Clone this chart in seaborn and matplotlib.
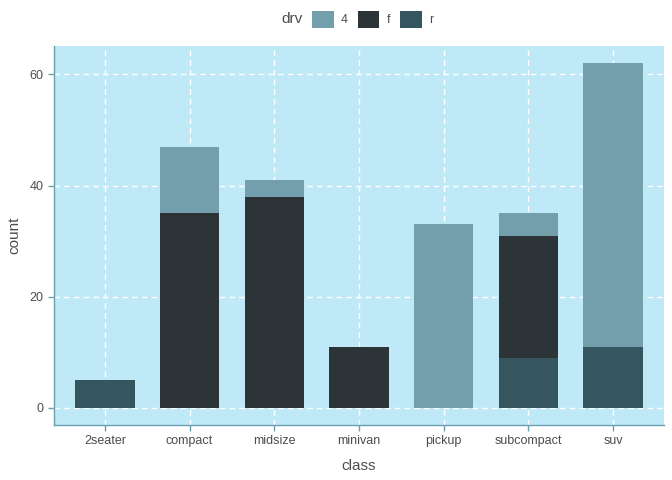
import matplotlib
matplotlib.use("Agg")
import matplotlib.pyplot as plt
import seaborn as sns
import numpy as np
from matplotlib.patches import Patch

# counts per class and drive type (mpg data)
classes = ["2seater", "compact", "midsize", "minivan", "pickup", "subcompact", "suv"]
n_4 = [0, 12, 3, 0, 33, 4, 51]
n_f = [0, 35, 38, 11, 0, 22, 0]
n_r = [5, 0, 0, 0, 0, 9, 11]

col_4 = "#739FAC"
col_f = "#2D3437"
col_r = "#35555F"
bg = "#C0E9F7"
axcol = "#6A9FB0"

sns.set_style("white")
plt.rcParams["font.family"] = ["Liberation Sans", "DejaVu Sans"]

fig = plt.figure(figsize=(6.72, 4.8), dpi=100)
ax = fig.add_axes([0.0804, 0.1146, 0.9076, 0.7894])
ax.set_facecolor(bg)

tot = np.array(n_4) + np.array(n_f) + np.array(n_r)
fr = np.array(n_f) + np.array(n_r)
sns.barplot(x=classes, y=tot, color=col_4, width=0.7, saturation=1, linewidth=0, ax=ax, zorder=3)
sns.barplot(x=classes, y=fr, color=col_f, width=0.7, saturation=1, linewidth=0, ax=ax, zorder=3)
sns.barplot(x=classes, y=n_r, color=col_r, width=0.7, saturation=1, linewidth=0, ax=ax, zorder=3)

ax.set_xlim(-0.6, 6.6)
ax.set_ylim(-3.1, 65.1)
ax.set_yticks([0, 20, 40, 60])
ax.grid(True, color="white", linestyle=(0, (4, 3)), linewidth=1, zorder=0)
ax.set_axisbelow(True)
for s in ["top", "right"]:
    ax.spines[s].set_visible(False)
for s in ["left", "bottom"]:
    ax.spines[s].set_color(axcol)
    ax.spines[s].set_linewidth(1)
ax.tick_params(axis="both", colors=axcol, labelcolor="#4D4D4D", labelsize=9, length=4, width=1,
               left=True, bottom=True)
ax.set_xlabel("class", fontsize=11, color="#4D4D4D", labelpad=8)
ax.set_ylabel("count", fontsize=11, color="#4D4D4D", labelpad=6)

handles = [Patch(facecolor=col_4, edgecolor="none"),
           Patch(facecolor=col_f, edgecolor="none"),
           Patch(facecolor=col_r, edgecolor="none")]
fig.text(0.418, 0.96, "drv", fontsize=11, color="#4D4D4D", va="center")
fig.legend(handles, ["4", "f", "r"], loc="center left", bbox_to_anchor=(0.448, 0.96), ncol=3,
           frameon=False, handlelength=1.7, handleheight=1.7, handletextpad=0.6,
           columnspacing=0.8, fontsize=9, labelcolor="#4D4D4D")

fig.savefig("out.png", dpi=100)
